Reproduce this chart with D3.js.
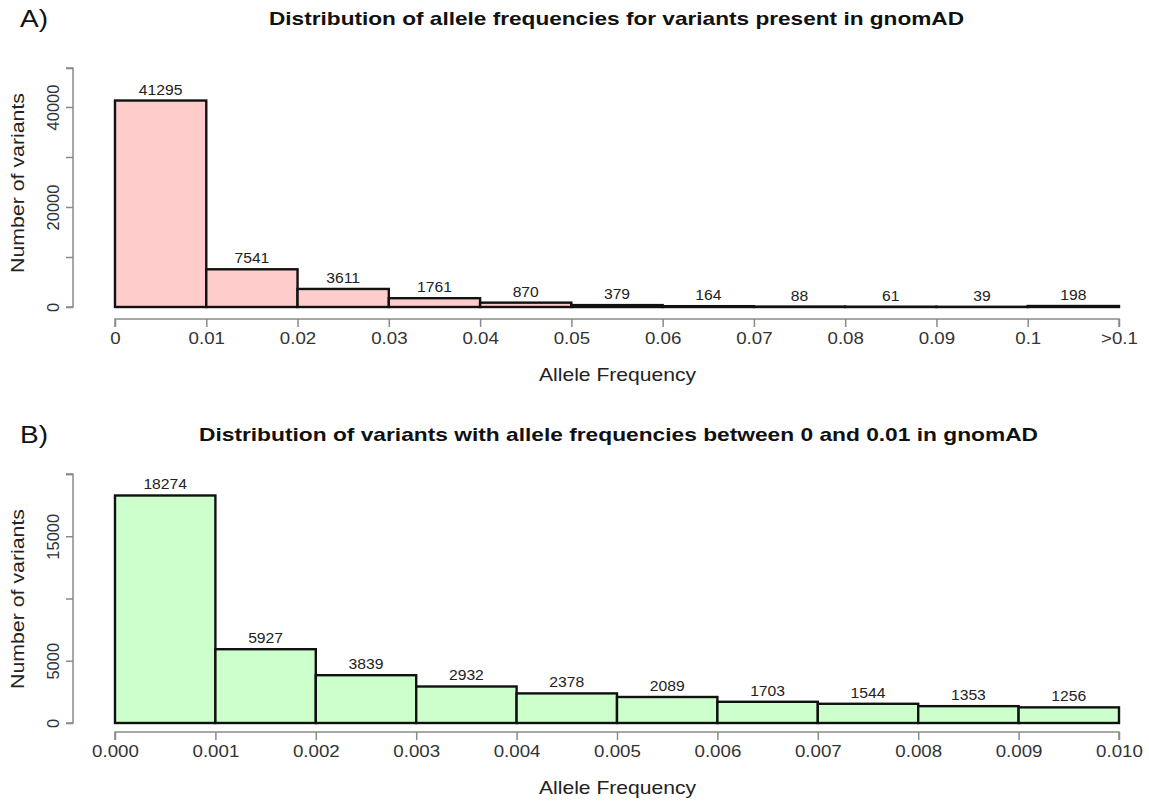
<!DOCTYPE html>
<html>
<head>
<meta charset="utf-8">
<script src="https://cdn.jsdelivr.net/npm/d3@7"></script>
<style>
  body { margin: 0; background: #fff; }
  svg { font-family: "Liberation Sans", Arial, sans-serif; }
</style>
</head>
<body>
<svg id="chart" width="1149" height="802"></svg>
<script>
// Panel A: all variants present in gnomAD
const binsA = ["0", "0.01", "0.02", "0.03", "0.04", "0.05", "0.06", "0.07", "0.08", "0.09", "0.1", ">0.1"];
const countsA = [41295, 7541, 3611, 1761, 870, 379, 164, 88, 61, 39, 198];
const yTicksA = [0, 10000, 20000, 30000, 40000];
const yLabelsA = [0, 20000, 40000];
const yMaxA = 47800;

// Panel B: variants with allele frequency between 0 and 0.01
const binsB = ["0.000", "0.001", "0.002", "0.003", "0.004", "0.005", "0.006", "0.007", "0.008", "0.009", "0.010"];
const countsB = [18274, 5927, 3839, 2932, 2378, 2089, 1703, 1544, 1353, 1256];
const yTicksB = [0, 5000, 10000, 15000, 20000];
const yLabelsB = [0, 5000, 15000];
const yMaxB = 20000;

const svg = d3.select("#chart");

// widen text horizontally by a factor (the typeface used is a bit wider than Arial)
function widen(sel, f) {
  sel.each(function() {
    const w = this.getComputedTextLength();
    d3.select(this).attr("textLength", w * f).attr("lengthAdjust", "spacingAndGlyphs");
  });
}

function panel(cfg) {
  const g = svg.append("g");
  const n = cfg.counts.length;
  const x = d3.scaleLinear().domain([0, n]).range([cfg.x0, cfg.x1]);
  const y = d3.scaleLinear().domain([0, cfg.yMax]).range([cfg.yBase, cfg.yTop]);

  // panel letter and title
  g.append("text").attr("x", 20).attr("y", cfg.titleY + 9)
    .attr("font-size", 23).attr("fill", "#111").text(cfg.letter)
    .attr("textLength", 28).attr("lengthAdjust", "spacingAndGlyphs");
  g.append("text").attr("x", cfg.titleX).attr("y", cfg.titleY + 7)
    .attr("font-size", 18.5).attr("font-weight", "bold")
    .attr("fill", "#111").text(cfg.title)
    .attr("textLength", cfg.titleW).attr("lengthAdjust", "spacingAndGlyphs");

  // bars
  g.selectAll("rect.bar").data(cfg.counts).join("rect")
    .attr("class", "bar")
    .attr("x", (d, i) => x(i))
    .attr("width", (d, i) => x(i + 1) - x(i))
    .attr("y", d => y(d))
    .attr("height", d => y(0) - y(d))
    .attr("fill", cfg.fill)
    .attr("stroke", "#111")
    .attr("stroke-width", 2.4);

  // count labels above bars
  const counts = g.selectAll("text.count").data(cfg.counts).join("text")
    .attr("class", "count")
    .attr("x", (d, i) => (x(i) + x(i + 1)) / 2)
    .attr("y", d => y(d) - 6)
    .attr("text-anchor", "middle")
    .attr("font-size", 14)
    .attr("fill", "#222")
    .text(d => d);
  widen(counts, 1.12);

  // y axis
  const yAxis = d3.axisLeft(y)
    .tickValues(cfg.yTicks.concat([cfg.yMax]))
    .tickSize(7)
    .tickFormat(v => cfg.yLabels.includes(v) ? v : "");
  const ya = g.append("g").attr("transform", `translate(${cfg.x0 - 42},0)`).call(yAxis);
  ya.select(".domain").attr("stroke", "#8a8a8a").attr("stroke-width", 1.5)
    .attr("d", `M-7,${y(cfg.yMax)}H0V${y(0)}H-7`);
  ya.selectAll(".tick line").attr("stroke", "#8a8a8a").attr("stroke-width", 1.5);
  ya.selectAll(".tick text")
    .attr("font-size", 16.5).attr("fill", "#333")
    .attr("font-family", "Liberation Sans, Arial, sans-serif")
    .attr("transform", "rotate(-90)")
    .attr("x", 0).attr("y", -14)
    .attr("dy", 0)
    .attr("text-anchor", "middle");

  // x axis
  const xAxis = d3.axisBottom(x)
    .tickValues(d3.range(n + 1))
    .tickSize(8)
    .tickFormat(i => cfg.bins[i]);
  const xa = g.append("g").attr("transform", `translate(0,${cfg.xAxisY})`).call(xAxis);
  xa.select(".domain").attr("stroke", "#8a8a8a").attr("stroke-width", 1.5)
    .attr("d", `M${x(0)},8V0H${x(n)}V8`);
  xa.selectAll(".tick line").attr("stroke", "#8a8a8a").attr("stroke-width", 1.5);
  const xt = xa.selectAll(".tick text")
    .attr("font-size", 17).attr("fill", "#333")
    .attr("font-family", "Liberation Sans, Arial, sans-serif")
    .attr("y", 13).attr("dy", "0.71em");
  widen(xt, 1.1);

  // axis titles
  g.append("text")
    .attr("x", (cfg.x0 + cfg.x1) / 2 - 78).attr("y", cfg.xAxisY + 62)
    .attr("font-size", 18.5).attr("fill", "#222")
    .text("Allele Frequency")
    .attr("textLength", 157).attr("lengthAdjust", "spacingAndGlyphs");
  g.append("text")
    .attr("transform", `translate(24,${cfg.yLabelC + 90}) rotate(-90)`)
    .attr("font-size", 18.5).attr("fill", "#222")
    .text("Number of variants")
    .attr("textLength", 180).attr("lengthAdjust", "spacingAndGlyphs");
}

panel({
  letter: "A)", title: "Distribution of allele frequencies for variants present in gnomAD",
  titleX: 269, titleW: 695, titleY: 18,
  counts: countsA, bins: binsA, yTicks: yTicksA, yLabels: yLabelsA, yMax: yMaxA,
  x0: 115, x1: 1119, yBase: 307, yTop: 68, xAxisY: 319, fill: "#ffcccc", yLabelC: 183
});

panel({
  letter: "B)", title: "Distribution of variants with allele frequencies between 0 and 0.01 in gnomAD",
  titleX: 199, titleW: 839, titleY: 434,
  counts: countsB, bins: binsB, yTicks: yTicksB, yLabels: yLabelsB, yMax: yMaxB,
  x0: 115, x1: 1119, yBase: 723, yTop: 474, xAxisY: 732, fill: "#ccffcc", yLabelC: 599
});
</script>
</body>
</html>
